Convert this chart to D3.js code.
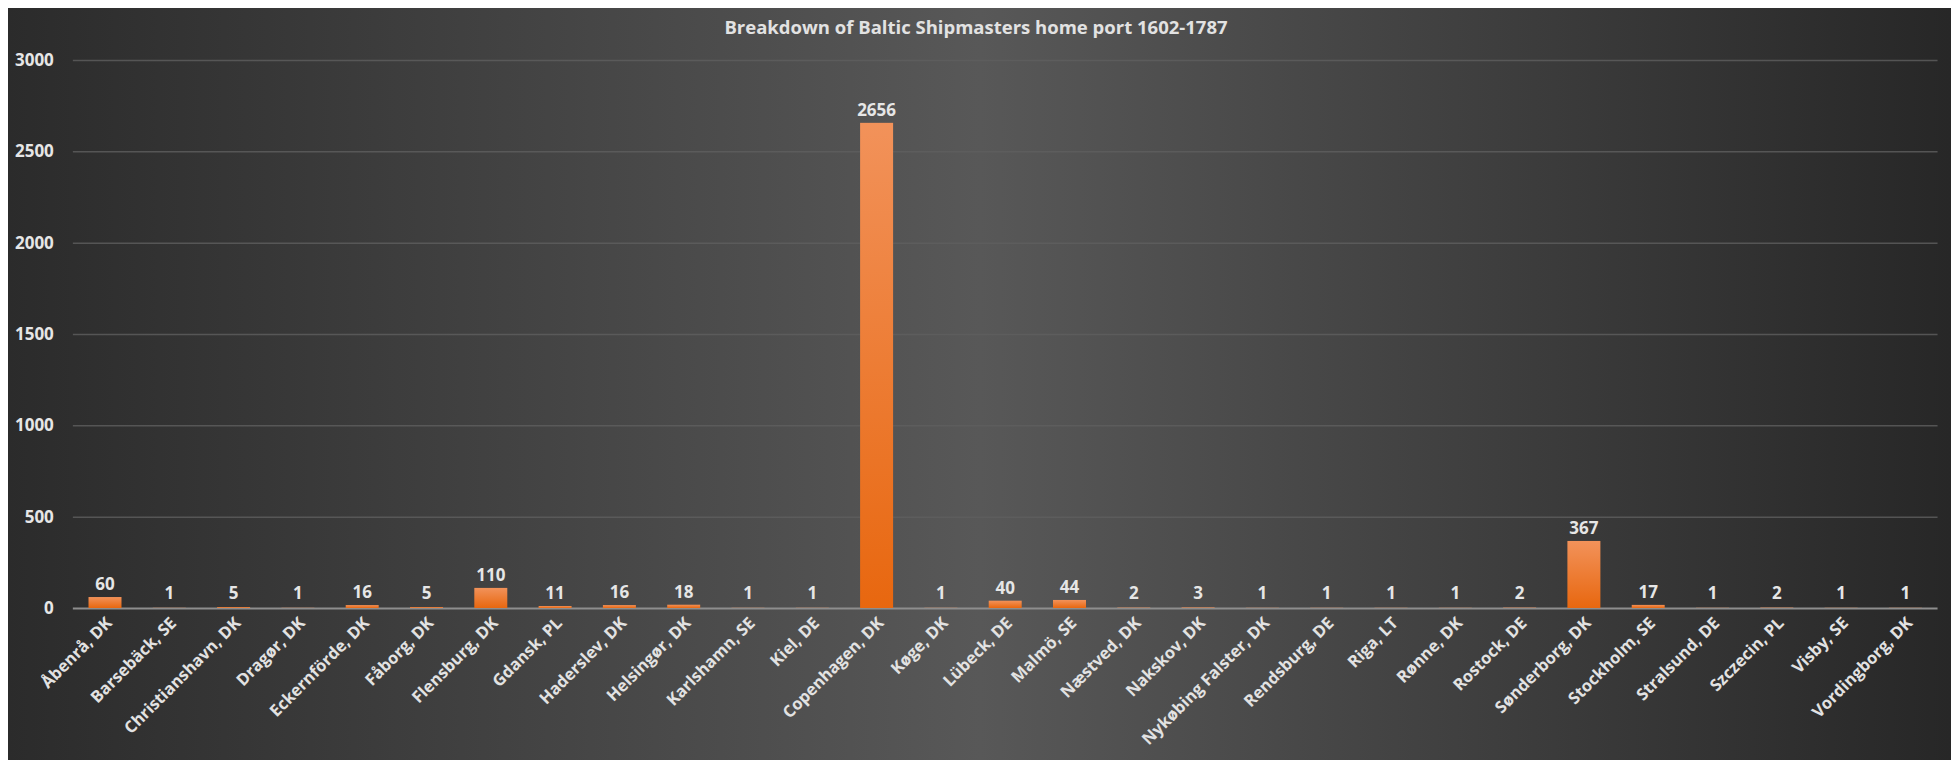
<!DOCTYPE html>
<html>
<head>
<meta charset="utf-8">
<script src="https://cdn.jsdelivr.net/npm/d3@7"></script>
<style>
  body { margin: 0; background: #ffffff; }
  text { font-family: "Open Sans", "Liberation Sans", sans-serif; font-weight: bold; }
</style>
</head>
<body>
<div id="chart"></div>
<script>
// data
var ports = ["Åbenrå, DK", "Barsebäck, SE", "Christianshavn, DK", "Dragør, DK", "Eckernförde, DK",
  "Fåborg, DK", "Flensburg, DK", "Gdansk, PL", "Haderslev, DK", "Helsingør, DK", "Karlshamn, SE",
  "Kiel, DE", "Copenhagen, DK", "Køge, DK", "Lübeck, DE", "Malmö, SE", "Næstved, DK", "Nakskov, DK",
  "Nykøbing Falster, DK", "Rendsburg, DE", "Riga, LT", "Rønne, DK", "Rostock, DE", "Sønderborg, DK",
  "Stockholm, SE", "Stralsund, DE", "Szczecin, PL", "Visby, SE", "Vordingborg, DK"];
var shipmasters = [60, 1, 5, 1, 16, 5, 110, 11, 16, 18, 1, 1, 2656, 1, 40, 44, 2, 3, 1, 1, 1, 1, 2, 367, 17, 1, 2, 1, 1];
var yTicks = [0, 500, 1000, 1500, 2000, 2500, 3000];
var title = "Breakdown of Baltic Shipmasters home port 1602-1787";

var W = 1951, H = 760;
var plot = {left: 72.85, right: 1937.55, top: 60, bottom: 608};

var svg = d3.select("#chart").append("svg")
  .attr("width", W)
  .attr("height", H);

var defs = svg.append("defs");

// background: dark edges, lighter middle
var bg = defs.append("linearGradient").attr("id", "bg");
bg.append("stop").attr("offset", "0%").attr("stop-color", "#2b2b2b");
bg.append("stop").attr("offset", "50%").attr("stop-color", "#585858");
bg.append("stop").attr("offset", "100%").attr("stop-color", "#272727");

var barGrad = defs.append("linearGradient").attr("id", "bar")
  .attr("x1", 0).attr("y1", 0).attr("x2", 0).attr("y2", 1);
barGrad.append("stop").attr("offset", "0%").attr("stop-color", "#f2925a");
barGrad.append("stop").attr("offset", "100%").attr("stop-color", "#e8670f");

svg.append("rect")
  .attr("x", 8).attr("y", 8)
  .attr("width", W - 8).attr("height", H - 8)
  .attr("fill", "url(#bg)");

var x = d3.scaleBand()
  .domain(ports)
  .range([plot.left, plot.right])
  .paddingInner(0.487)
  .paddingOuter(0.2435);

var y = d3.scaleLinear()
  .domain([0, 3000])
  .range([plot.bottom, plot.top]);

// gridlines + y labels
var yAxis = svg.append("g")
  .attr("transform", "translate(" + plot.left + ",0)")
  .call(d3.axisLeft(y).tickValues(yTicks).tickFormat(d3.format("d"))
    .tickSize(-(plot.right - plot.left)).tickPadding(19));
yAxis.select(".domain").remove();
yAxis.selectAll("line")
  .attr("stroke", function(d) { return d === 0 ? "#8e8e8e" : "#5f5f5f"; })
  .attr("stroke-width", function(d) { return d === 0 ? 2 : 1.5; })
  .attr("stroke-opacity", function(d) { return d === 0 ? 1 : 0.8; });
yAxis.selectAll("text")
  .attr("fill", "#e6e6e6")
  .style("font-size", "17px");

// bars
svg.append("g")
  .selectAll("rect")
  .data(shipmasters)
  .enter()
  .append("rect")
    .attr("x", function(d, i) { return x(ports[i]); })
    .attr("y", function(d) { return y(d); })
    .attr("width", x.bandwidth())
    .attr("height", function(d) { return y(0) - y(d); })
    .attr("fill", "url(#bar)");

// value labels
svg.append("g")
  .selectAll("text")
  .data(shipmasters)
  .enter()
  .append("text")
    .attr("x", function(d, i) { return x(ports[i]) + x.bandwidth() / 2; })
    .attr("y", function(d) { return Math.min(y(d), y(0) - 2) - 7; })
    .attr("text-anchor", "middle")
    .attr("fill", "#e6e6e6")
    .style("font-size", "17px")
    .text(function(d) { return d; });

// x axis labels, rotated
var xAxis = svg.append("g")
  .attr("transform", "translate(0," + plot.bottom + ")")
  .call(d3.axisBottom(x).tickSize(0));
xAxis.select(".domain").remove();
xAxis.selectAll("text")
  .attr("x", 0).attr("y", 0).attr("dy", "0.35em")
  .attr("text-anchor", "end")
  .attr("transform", "translate(4,12) rotate(-45)")
  .attr("fill", "#e2e2e2")
  .style("font-size", "16.5px");

// title
svg.append("text")
  .attr("x", 976)
  .attr("y", 34)
  .attr("text-anchor", "middle")
  .attr("fill", "#e2e2e2")
  .style("font-size", "18.5px")
  .text(title);
</script>
</body>
</html>
